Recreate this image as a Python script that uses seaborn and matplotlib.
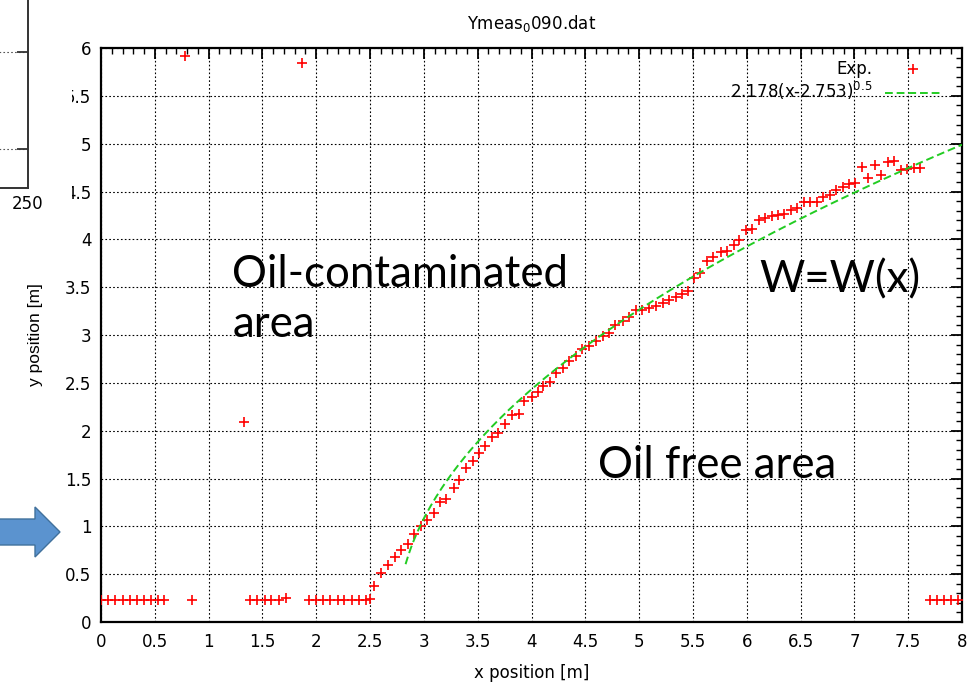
import matplotlib
matplotlib.use("Agg")
import matplotlib.pyplot as plt
from matplotlib.patches import FancyArrow
from matplotlib.ticker import MultipleLocator
import numpy as np
import pandas as pd
import seaborn as sns

base_x = [0.0, 0.065, 0.13, 0.2, 0.265, 0.33, 0.4, 0.46, 0.53, 0.59, 0.85,
          1.38, 1.45, 1.52, 1.58, 1.65, 1.72,
          1.93, 2.0, 2.06, 2.13, 2.2, 2.26, 2.33, 2.4, 2.46, 2.5,
          7.7, 7.77, 7.83, 7.9, 7.96]
base_y = [0.23] * 16 + [0.25] + [0.23] * 9 + [0.24] + [0.23] * 5

rise_x = [2.54, 2.60, 2.67, 2.73, 2.79, 2.85, 2.91, 2.97, 3.03, 3.09,
          3.15, 3.21, 3.28, 3.33, 3.39, 3.46, 3.51, 3.57, 3.63, 3.69,
          3.75, 3.82, 3.88, 3.93, 4.00, 4.06, 4.11, 4.17, 4.23, 4.29,
          4.35, 4.41, 4.47, 4.53, 4.60, 4.66, 4.72, 4.78, 4.85, 4.91,
          4.97, 5.03, 5.09, 5.16, 5.22, 5.28, 5.34, 5.40, 5.45, 5.51,
          5.57, 5.63, 5.69, 5.76, 5.82, 5.88, 5.93,
          5.99, 6.05, 6.11, 6.17, 6.23, 6.29, 6.35, 6.41, 6.47, 6.53,
          6.59, 6.65, 6.71, 6.77, 6.83, 6.89, 6.95, 7.01, 7.07, 7.13,
          7.19, 7.25, 7.31, 7.37, 7.43, 7.49, 7.55, 7.61]
rise_y = [0.38, 0.51, 0.60, 0.68, 0.75, 0.82, 0.92, 1.00, 1.07, 1.14,
          1.25, 1.29, 1.40, 1.48, 1.61, 1.68, 1.77, 1.84, 1.93, 1.98,
          2.07, 2.16, 2.17, 2.31, 2.35, 2.40, 2.47, 2.51, 2.60, 2.66,
          2.73, 2.78, 2.85, 2.88, 2.94, 2.99, 3.02, 3.10, 3.15, 3.19,
          3.26, 3.26, 3.28, 3.30, 3.33, 3.37, 3.40, 3.43, 3.46, 3.60,
          3.65, 3.77, 3.82, 3.87, 3.88, 3.94, 3.99,
          4.10, 4.11, 4.20, 4.22, 4.24, 4.25, 4.27, 4.31, 4.33, 4.39,
          4.39, 4.39, 4.44, 4.46, 4.52, 4.55, 4.58, 4.59, 4.76, 4.64,
          4.78, 4.67, 4.81, 4.82, 4.72, 4.73, 4.75, 4.75]

outlier_x = [0.78, 1.33, 1.87]
outlier_y = [5.92, 2.09, 5.84]

# fitted curve as given in the legend: a (x - x0)^p
fit_a, fit_x0, fit_p = 2.178, 2.753, 0.5
fit_x_start, fit_x_end = 2.83, 8.0

exp = pd.DataFrame({"x": base_x + rise_x + outlier_x,
                    "y": base_y + rise_y + outlier_y})
fit_x = np.linspace(fit_x_start, fit_x_end, 200)
fit = pd.DataFrame({"x": fit_x, "y": fit_a * (fit_x - fit_x0) ** fit_p})

sns.set_theme(style="white")
plt.rcParams["font.family"] = ["DejaVu Sans"]
plt.rcParams["mathtext.fontset"] = "dejavusans"
for key in ["text.color", "axes.labelcolor", "xtick.color", "ytick.color",
            "xtick.labelcolor", "ytick.labelcolor"]:
    plt.rcParams[key] = "black"

fig = plt.figure(figsize=(9.8, 6.85), dpi=100)
ax = fig.add_axes([101 / 980, 63 / 685, 861 / 980, 574 / 685])

sns.scatterplot(data=exp, x="x", y="y", ax=ax, marker="+", color="#ff0000",
                s=52, linewidth=1.2, label="Exp.", zorder=3)
sns.lineplot(data=fit, x="x", y="y", ax=ax, color="#22cc22", linewidth=1.4,
             label="2.178(x-2.753)$^{0.5}$", zorder=4)
ax.lines[-1].set_dashes((4, 2))

ax.set_xlim(0, 8)
ax.set_ylim(0, 6)
ax.xaxis.set_major_locator(MultipleLocator(0.5))
ax.yaxis.set_major_locator(MultipleLocator(0.5))
ax.xaxis.set_minor_locator(MultipleLocator(0.1))
ax.yaxis.set_minor_locator(MultipleLocator(0.1))
ax.xaxis.set_major_formatter(lambda v, p: f"{v:g}")
ax.yaxis.set_major_formatter(lambda v, p: f"{v:g}")
ax.tick_params(which="both", direction="in", top=True, right=True,
               color="black", labelsize=12)
ax.tick_params(which="major", length=8, width=1.3)
ax.tick_params(which="minor", length=4, width=1.0)
ax.tick_params(axis="x", pad=8)
ax.tick_params(axis="y", pad=7)
for s in ax.spines.values():
    s.set_color("black")
    s.set_linewidth(1.6)
ax.grid(True, which="major", color="black", linestyle=(0, (1.5, 2)),
        linewidth=0.8)

ax.set_xlabel("x position [m]", fontsize=12, labelpad=9)
ax.set_ylabel("y position [m]", fontsize=12.5, labelpad=16,
              family=["Liberation Sans", "DejaVu Sans"])
ax.set_title("Ymeas$_0$090.dat", fontsize=12, pad=14)

leg = ax.legend(loc="upper right", bbox_to_anchor=(0.9826, 0.991),
                frameon=False, markerfirst=False, fontsize=12,
                handlelength=3.3, labelspacing=0.15, handletextpad=0.8,
                borderaxespad=0)

# slide annotations
big = dict(family=["Lato", "DejaVu Sans"], fontsize=31.5, color="black",
           va="baseline", ha="left", zorder=6)
ax.text(1.22, 3.5, "Oil-contaminated", **big)
ax.text(1.22, 2.98, "area", **big)
ax.text(6.12, 3.44, "W=W(x)", **big)
ax.text(4.62, 1.51, "Oil free area", **big)

# fragment of a neighbouring chart in the top-left corner
cover = fig.add_axes([0, 1 - 215 / 685, 72 / 980, 215 / 685], zorder=10)
cover.set_facecolor("white")
cover.set_xticks([])
cover.set_yticks([])
for s in cover.spines.values():
    s.set_visible(False)

frag = fig.add_axes([-0.1, 1 - 188 / 685, 0.1 + 28 / 980, 194 / 685],
                    zorder=11)
frag.set_facecolor("white")
frag.set_xlim(0, 250)
frag.set_ylim(0, 2)
frag.set_xticks([250])
frag.set_yticks([0.4, 1.4])
frag.set_yticklabels([])
frag.tick_params(axis="x", length=0, labelsize=12, pad=5)
frag.tick_params(axis="y", direction="in", right=True, left=False,
                 length=8, width=1.3, color="#333333")
frag.grid(True, axis="y", color="#555555", linestyle=(0, (1.5, 2)),
          linewidth=0.8)
frag.grid(False, axis="x")
for side in ["top", "left"]:
    frag.spines[side].set_visible(False)
for side in ["right", "bottom"]:
    frag.spines[side].set_color("#333333")
    frag.spines[side].set_linewidth(1.4)

# blue pointer arrow on the left edge
fig.patches.append(FancyArrow(-0.1, (685 - 532) / 100, 0.7, 0, width=0.26,
                              head_width=0.5, head_length=0.25,
                              length_includes_head=True,
                              transform=fig.dpi_scale_trans,
                              facecolor="#5b93cf", edgecolor="#41719c",
                              linewidth=1.0, zorder=12))

fig.savefig("out.png", dpi=100)
